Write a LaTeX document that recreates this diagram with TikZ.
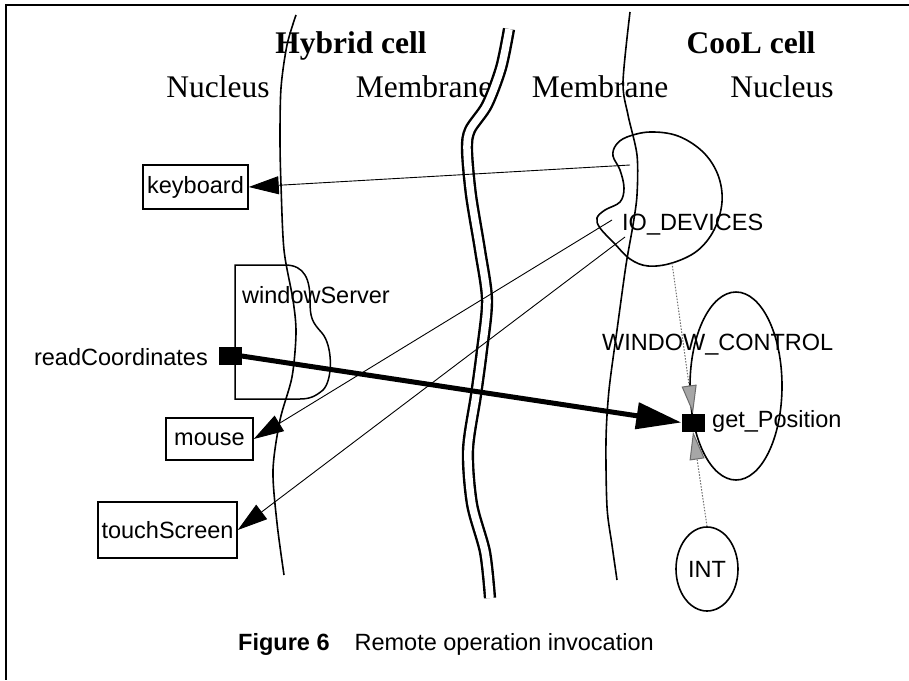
\documentclass[tikz,border=0pt]{standalone}
\usepackage{fontspec}
\setmainfont{Liberation Serif}
\setsansfont{Liberation Sans}
\usetikzlibrary{arrows.meta,shapes.geometric}
\begin{document}
\begin{tikzpicture}[x=1pt,y=-1pt,
  lab/.style={font=\sffamily\fontsize{23.5}{28}\selectfont, inner sep=0pt},
  ttl/.style={font=\fontsize{31.5}{36}\selectfont, inner sep=0pt, anchor=base},
  box/.style={draw, line width=1.5pt, inner sep=0pt, font=\sffamily\fontsize{23.5}{28}\selectfont},
  port/.style={fill=black, inner sep=0pt, minimum width=23pt, minimum height=18pt},
  boundary/.style={line width=1.6pt},
  conn/.style={line width=0.9pt, -{Triangle[length=30pt,width=18pt]}},
  bigconn/.style={line width=5pt, -{Triangle[length=45pt,width=26pt]}},
  dotconn/.style={line width=1pt, draw=gray!85!black, dash pattern=on 1.5pt off 1.5pt,
    -{Triangle[length=28pt,width=15pt,fill=gray!70]}}
]
\path[use as bounding box] (0,0) rectangle (909,680);

% frame
\draw[line width=2.5pt] (5,5) -- (909,5);
\draw[line width=1.8pt] (6,5) -- (6,680);

% titles
\node[ttl, font=\bfseries\fontsize{31.5}{36}\selectfont] (hyb) at (351,53) {Hybrid cell};
\node[ttl, font=\bfseries\fontsize{31.5}{36}\selectfont] (cool) at (751,53) {CooL cell};
\node[ttl] (nucL) at (218,97) {Nucleus};
\node[ttl] (memL) at (424,97) {Membrane};
\node[ttl] (memR) at (600,97) {Membrane};
\node[ttl] (nucR) at (782,97) {Nucleus};

% boundaries
\draw[boundary] plot[smooth] coordinates {(296,15) (287,45) (281,88) (280,140) (281,185) (284,250) (293,300) (296,333) (292,377) (280,420) (273,470) (277,523) (284,575)};
\draw[boundary] plot[smooth] coordinates {(630,12) (623,82) (628,115) (637,155) (637,195) (633,225) (626,265) (617,330) (609,390) (606,440) (607,507) (612,545) (617,580)};
\draw[line width=2.4pt, double distance=7.5pt] plot[smooth] coordinates {(509,29) (501,68) (487,105) (470,130) (467,150) (471,195) (480,250) (487,300) (482,350) (476,395) (468,450) (472,504) (485,552) (490,598)};

% windowServer
\draw[line width=1.5pt] (235,399) -- (235,265) -- (285,265) .. controls (305,265) and (310,280) .. (310,300)
  .. controls (310,318) and (312,322) .. (322,333) .. controls (333,346) and (333,380) .. (323,390)
  .. controls (316,396) and (310,399) .. (300,399) -- cycle;
\node[lab, anchor=base west] (ws) at (242,303) {windowServer};

% IO_DEVICES blob
\draw[boundary] plot[smooth cycle, tension=0.6] coordinates {(627,137) (650,132) (678,136) (703,152) (718,175) (722,202) (714,230) (697,251) (672,263) (648,266) (630,259) (614,243) (600,228) (597,218) (605,210) (620,202) (624,188) (620,170) (613,156) (616,145)};
\node[lab, anchor=base west] (io) at (622,230) {IO\_DEVICES};
\coordinate (kbsrc) at (630,165);
\coordinate (msrc) at (612,220);
\coordinate (tssrc) at (625,237);
\coordinate (iobot) at (672,263);

% WINDOW_CONTROL
\node[draw, ellipse, line width=1.6pt, minimum width=92pt, minimum height=188pt, inner sep=0pt] (wc) at (736,386) {};
\node[lab, anchor=base west] (wcl) at (602,350) {WINDOW\_CONTROL};

% INT
\node[draw, ellipse, line width=1.6pt, minimum width=62pt, minimum height=84pt, inner sep=0pt, font=\sffamily\fontsize{23.5}{28}\selectfont] (int) at (707,569) {INT};

% boxes
\node[box, minimum width=105pt, minimum height=44pt] (kb) at (195.5,187) {keyboard};
\node[box, minimum width=87pt, minimum height=42pt] (mouse) at (209.5,439) {mouse};
\node[box, minimum width=139pt, minimum height=56pt] (ts) at (167.5,530) {touchScreen};

% ports
\node[port] (rc) at (230,356) {};
\node[lab, anchor=base east] (rcl) at (208,365) {readCoordinates};
\node[port] (gp) at (693,422.5) {};
\node[lab, anchor=base west] (gpl) at (712,427) {get\_Position};

% connectors
\draw[conn] (kbsrc) -- (kb.east);
\draw[conn] (msrc) -- (mouse.east);
\draw[conn] (tssrc) -- (ts.east);
\draw[bigconn] (rc.east) -- (gp.west);
\draw[dotconn] (iobot) -- (gp.north);
\draw[dotconn] (int.north) -- (gp.south);

% caption
\node[lab, anchor=base west] (cap) at (238,650) {\textbf{Figure 6}\hspace{25pt}Remote operation invocation};
\end{tikzpicture}
\end{document}
